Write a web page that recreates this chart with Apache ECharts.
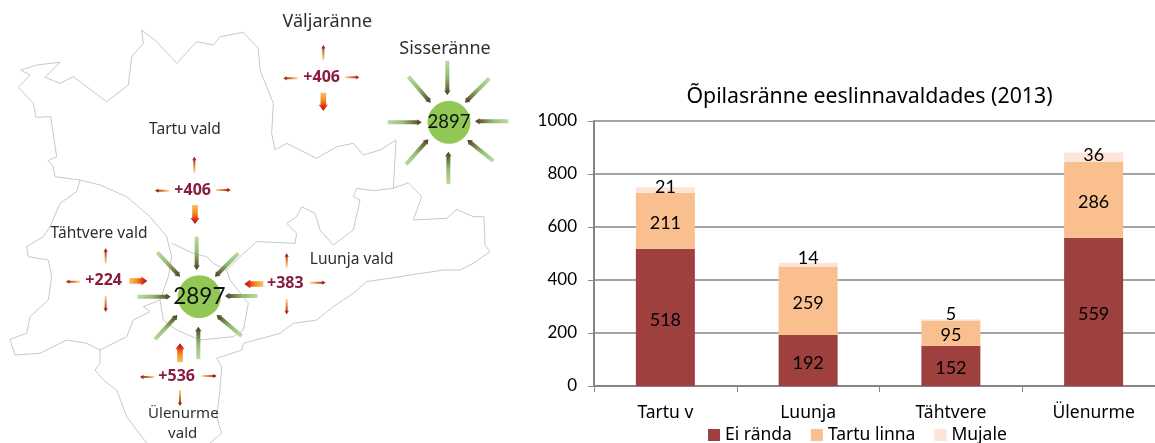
<!DOCTYPE html>
<html><head><meta charset="utf-8">
<style>html,body{margin:0;padding:0;background:#fff}#c{width:1155px;height:443px}</style>
<script src="https://cdn.jsdelivr.net/npm/echarts@6/dist/echarts.min.js"></script>
</head><body><div id="c"></div>
<script>
const categories = ['Tartu v', 'Luunja', 'Tähtvere', 'Ülenurme'];
const eiRanda = [518, 192, 152, 559];
const tartuLinna = [211, 259, 95, 286];
const mujale = [21, 14, 5, 36];
const mujaleLabelLift = [-3, -6, -6, -2];
const title = 'Õpilasränne eeslinnavaldades (2013)';
const seriesNames = ['Ei rända', 'Tartu linna', 'Mujale'];
const yTicks = [0, 200, 400, 600, 800, 1000];

// Map illustration on the left (traced in 3x crop units)
const outlines = [
 [[240,540],[165,530],[160,500],[145,482],[170,470],[152,350],[108,352],[100,310],[55,262],[90,225],[62,210],[110,195],[180,187],[135,232],[180,250],[220,230],[320,305],[385,255],[395,170],[430,130],[425,90],[470,125],[530,190],[590,125],[640,135],[660,110],[730,97],[775,145],[780,210],[820,310],[815,400],[825,450],[860,430],[950,475],[1010,440],[1060,430],[1090,465],[1140,450],[1188,420],[1180,565],[1120,572],[1070,565],[1060,590],[1080,600],[1060,690],[1000,735],[960,690],[945,640],[905,620],[890,650],[860,670],[890,700],[885,730],[770,725],[720,770],[680,810]],
 [[1180,565],[1225,548],[1265,590],[1240,660],[1340,655],[1370,628],[1420,650],[1452,650],[1455,735],[1470,755],[1420,790],[1380,810],[1330,810],[1200,830],[1100,845],[1060,880],[1000,920],[950,960],[880,970],[840,1000],[730,1030]],
 [[240,540],[300,555],[380,590],[450,650],[500,710],[515,770]],
 [[240,540],[230,575],[180,610],[150,680],[130,710],[80,740],[85,770],[145,780],[155,830],[145,900],[90,950],[80,1000],[30,1018],[45,1065],[120,1060],[200,1020],[260,1030],[300,1050],[380,1010],[400,960],[450,935],[430,920],[480,900]],
 [[300,1050],[300,1090],[285,1110],[310,1140],[350,1170],[380,1250],[440,1329]],
 [[730,1030],[725,1050],[650,1075],[665,1100],[660,1170],[650,1250],[665,1300],[630,1329]],
 [[515,730],[580,760],[620,770],[640,790],[680,810],[690,840],[745,910],[730,990],[700,1010],[600,1020],[530,990],[490,960],[480,900],[505,830],[515,770]]
];
const greenHubs = [
 {c:[1347,367], text:'2897', font:18.5, arrows:[[1342,182,1342,285],[1468,235,1395,308],[1525,364,1425,364],[1480,483,1402,420],[1345,553,1345,455],[1218,493,1285,418],[1163,367,1265,367],[1225,230,1292,308]]},
 {c:[598,890], text:'2897', font:22.5, arrows:[[590,710,590,810],[715,760,645,830],[772,888,675,888],[725,1008,650,945],[595,1078,595,980],[465,1018,532,945],[412,890,512,890],[472,757,540,830]]}
];
const redSmall = [[970,180,970,135],[893,235,850,235],[1035,232,1078,232],[583,518,583,470],[507,572,465,572],[648,570,692,570],[317,790,317,745],[240,845,198,845],[317,887,317,935],[860,803,860,760],[930,848,977,848],[860,897,860,943],[463,1131,420,1131],[606,1128,650,1128],[540,1170,540,1218]];
const redBig = [[970,278,970,332],[585,615,585,672],[388,843,442,843],[790,852,733,852],[540,1087,540,1030]];
const mapLabels = [
 ['Väljaränne',982,65,18],['Sisseränne',1335,148,18],['Tartu vald',555,388,15.5],['Tähtvere vald',297,700,15.5],
 ['Luunja vald',1055,778,15.5],['Ülenurme',550,1240,15],['vald',548,1300,15]
];
const gains = [['+406',965,233],['+406',578,571],['+224',311,842],['+383',856,851],['+536',530,1130]];

const S = v => v / 3;
function arrow(a, shaft, head, headLen, tail, tip) {
  const [x1,y1,x2,y2] = a.map(S), dx=x2-x1, dy=y2-y1, L=Math.hypot(dx,dy), ux=dx/L, uy=dy/L, nx=-uy, ny=ux;
  const bx=x2-ux*headLen, by=y2-uy*headLen;
  return {type:'polygon', silent:true, z:5,
    shape:{points:[[x1+nx*shaft,y1+ny*shaft],[bx+nx*shaft,by+ny*shaft],[bx+nx*head,by+ny*head],[x2,y2],[bx-nx*head,by-ny*head],[bx-nx*shaft,by-ny*shaft],[x1-nx*shaft,y1-ny*shaft]]},
    style:{fill:{type:'linear',global:true,x:x1,y:y1,x2:x2,y2:y2,colorStops:tail.concat(tip)}}};
}
const elements = [];
outlines.forEach(p => elements.push({type:'polyline',silent:true,z:1,shape:{points:p.map(q=>q.map(S))},style:{stroke:'#c8c8c8',lineWidth:1,fill:null}}));
greenHubs.forEach(h => {
  h.arrows.forEach(a => elements.push(arrow(a,2,3.2,4.5,[{offset:0,color:'#b8dca0'},{offset:.45,color:'#94bd72'}],[{offset:.8,color:'#6e6a3c'},{offset:1,color:'#4a3a25'}])));
  elements.push({type:'circle',silent:true,z:6,shape:{cx:S(h.c[0]),cy:S(h.c[1]),r:21.5},style:{fill:'#91c855'}});
  elements.push({type:'text',silent:true,z:7,style:{text:h.text,x:S(h.c[0]),y:S(h.c[1]),align:'center',verticalAlign:'middle',font:h.font+'px Lato',fill:'#111'}});
});
redSmall.forEach(a => elements.push(arrow(a,1,2.2,3.5,[{offset:0,color:'#fbd9a0'},{offset:.4,color:'#e88a3a'}],[{offset:.75,color:'#b03a20'},{offset:1,color:'#7a1a10'}])));
redBig.forEach(a => elements.push(arrow(a,2.8,4.6,6,[{offset:0,color:'#fbc060'},{offset:.45,color:'#f08a1c'}],[{offset:.75,color:'#e0301a'},{offset:1,color:'#a81212'}])));
mapLabels.forEach(l => elements.push({type:'text',silent:true,z:7,style:{text:l[0],x:S(l[1]),y:S(l[2]),align:'center',verticalAlign:'middle',font:l[3]+'px "Noto Sans"',fill:'#2e2e2e'}}));
gains.forEach(g => elements.push({type:'text',silent:true,z:7,style:{text:g[0],x:S(g[1]),y:S(g[2]),align:'center',verticalAlign:'middle',font:'bold 16px "Noto Sans"',fill:'#8a1c3c'}}));

const labelStyle = {show:true, color:'#000', fontFamily:'Lato', fontSize:18, position:'inside', offset:[0,2.5]};
const chart = echarts.init(document.getElementById('c'), null, {renderer:'canvas'});
chart.setOption({
  animation:false,
  textStyle:{fontFamily:'Lato'},
  title:{text:title,left:864.5,top:81,textAlign:'center',textStyle:{fontFamily:'Noto Sans',fontWeight:'normal',fontSize:21.3,color:'#000'}},
  grid:{left:594,right:-10,top:121,bottom:57,outerBoundsMode:'none'},
  legend:{left:703,top:421,itemWidth:12,itemHeight:12,itemGap:19,icon:'rect',
    textStyle:{fontFamily:'Noto Sans',fontSize:17.5,color:'#000'}},
  xAxis:{type:'category',data:categories,
    axisLine:{lineStyle:{color:'#868686',width:2}},
    axisTick:{show:true,length:6,lineStyle:{color:'#868686',width:1}},
    axisLabel:{color:'#000',fontFamily:'Noto Sans',fontSize:17.5,margin:18}},
  yAxis:{type:'value',min:yTicks[0],max:yTicks[yTicks.length-1],interval:yTicks[1],
    axisLine:{show:true,lineStyle:{color:'#868686',width:2}},
    axisTick:{show:true,length:6,lineStyle:{color:'#868686',width:1}},
    splitLine:{lineStyle:{color:'#868686',width:1.5}},
    axisLabel:{color:'#000',fontFamily:'Lato',fontSize:17,margin:17,formatter:v=>String(v)}},
  series:[
    {name:seriesNames[0],type:'bar',stack:'a',data:eiRanda,barWidth:59,itemStyle:{color:'#9e413e'},label:labelStyle},
    {name:seriesNames[1],type:'bar',stack:'a',data:tartuLinna,barWidth:59,itemStyle:{color:'#fabf8f'},label:labelStyle},
    {name:seriesNames[2],type:'bar',stack:'a',barWidth:59,itemStyle:{color:'#fce4d6'},
      data:mujale.map((v,i)=>({value:v,label:{...labelStyle,offset:[0,mujaleLabelLift[i]]}}))}
  ],
  graphic:{elements}
});
</script></body></html>
